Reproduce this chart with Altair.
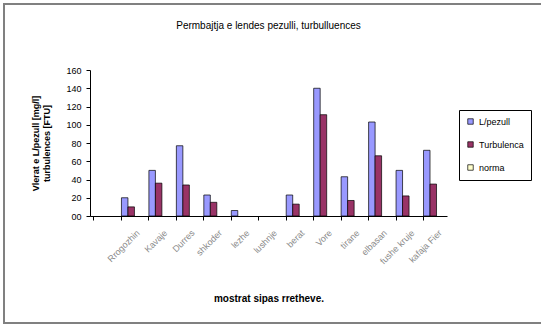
import altair as alt
import pandas as pd

categories = ["", "Rrogozhin", "Kavaje", "Durres", "shkoder", "lezhe", "lushnje",
              "berat", "Vore", "tirane", "elbasan", "fushe kruje", "kafaja Fier"]
series = ["L/pezull", "Turbulenca", "norma"]
pezull = [None, 20, 50, 77, 23, 6, None, 23, 140, 43, 103, 50, 72]
turbulenca = [None, 10, 36, 34, 15, None, None, 13, 111, 17, 66, 22, 35]
colors = ["#9999FF", "#993366", "#FFFFCC"]
y_ticks = [0, 20, 40, 60, 80, 100, 120, 140, 160]

rows = []
for c, a, b in zip(categories, pezull, turbulenca):
    rows.append({"vendi": c, "seria": "L/pezull", "vlera": a})
    rows.append({"vendi": c, "seria": "Turbulenca", "vlera": b})
df = pd.DataFrame(rows)

FONT = "Liberation Sans"

bars = alt.Chart(df).mark_bar(stroke="black", strokeWidth=0.7).encode(
    x=alt.X("vendi:N", sort=categories,
            scale=alt.Scale(domain=categories, paddingInner=0.29, paddingOuter=0.145),
            axis=alt.Axis(title="mostrat sipas rretheve.", labelAngle=-45, labelAlign="right",
                          labelBaseline="middle", labelColor="#8a8a8a", labelFontSize=9,
                          labelPadding=11, bandPosition=0, labelOffset=7,
                          domainColor="black", tickColor="black", tickSize=4,
                          titleFontSize=10, titleFontWeight="bold", titleY=82,
                          titleBaseline="middle", titleColor="black")),
    xOffset=alt.XOffset("seria:N", sort=series, scale=alt.Scale(domain=series)),
    y=alt.Y("vlera:Q", scale=alt.Scale(domain=[0, 160], nice=False),
            axis=alt.Axis(title=["Vlerat e L/pezull [mg/l]", "turbulences [FTU]"],
                          values=y_ticks, grid=False, labelFontSize=9, labelColor="black",
                          labelExpr="datum.value == 0 ? '00' : datum.label",
                          domainColor="black", tickColor="black", tickSize=4, labelPadding=5,
                          titleFontSize=9, titleFontWeight="bold", titleColor="black",
                          titleX=-50, titleY=73, titleAlign="center", titleLineHeight=11)),
    color=alt.Color("seria:N", sort=series,
                    scale=alt.Scale(domain=series, range=colors),
                    legend=alt.Legend(title=None, orient="none", legendX=369, legendY=40,
                                      symbolType="square", symbolSize=30,
                                      symbolStrokeColor="black", symbolStrokeWidth=0.7,
                                      labelFontSize=9, rowPadding=13, padding=7,
                                      strokeColor="black", fillColor="white")),
)

frame = alt.Chart(pd.DataFrame({"k": [0]})).mark_rect(
    fill=None, stroke="#808080", strokeWidth=2
).encode(x=alt.value(-86), x2=alt.value(460), y=alt.value(-66), y2=alt.value(253))

chart = alt.layer(frame, bars).properties(
    width=357, height=146,
    autosize=alt.AutoSizeParams(type="none"),
    padding={"left": 90, "top": 70, "right": 94, "bottom": 111},
    title=alt.TitleParams("Permbajtja e lendes pezulli, turbulluences", fontSize=10,
                          fontWeight="normal", offset=0, dy=28, font=FONT, color="black"),
).configure(font=FONT).configure_view(stroke=None)

chart.save("out.html", embed_options={"renderer": "svg", "actions": False})
